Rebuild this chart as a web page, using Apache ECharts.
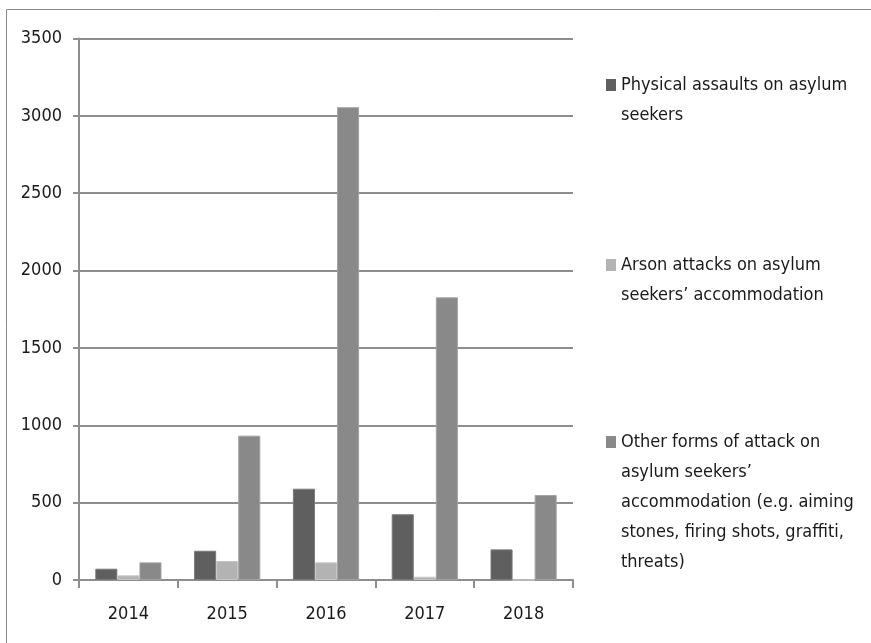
<!DOCTYPE html>
<html>
<head>
<meta charset="utf-8">
<script src="https://cdn.jsdelivr.net/npm/echarts@6/dist/echarts.min.js"></script>
<style>html,body{margin:0;padding:0;background:#fff}#c{width:871px;height:643px}</style>
</head>
<body>
<div id="c"></div>
<script>
const years = ['2014', '2015', '2016', '2017', '2018'];
const seriesNames = [
  'Physical assaults on asylum seekers',
  'Arson attacks on asylum seekers\u2019 accommodation',
  'Other forms of attack on asylum seekers\u2019 accommodation (e.g. aiming stones, firing shots, graffiti, threats)'
];
const legendLines = [
  ['Physical assaults on asylum', 'seekers'],
  ['Arson attacks on asylum', 'seekers\u2019 accommodation'],
  ['Other forms of attack on', 'asylum seekers\u2019', 'accommodation (e.g. aiming', 'stones, firing shots, graffiti,', 'threats)']
];
const physical = [73, 189, 590, 425, 198];
const arson = [30, 123, 114, 21, 0];
const other = [114, 933, 3056, 1827, 549];
const yTicks = [0, 500, 1000, 1500, 2000, 2500, 3000, 3500];

const colors = ['#5f5f5f', '#b3b3b3', '#898989'];
const borders = ['#7a7a7a', '#c6c6c6', '#a3a3a3'];
const FONT = '"DejaVu Sans Condensed", "Liberation Sans Narrow", sans-serif';
const gridColor = '#8e8e8e';
const LH = 30;
const legendFirstLineY = [85, 265, 442];

const values = [physical, arson, other];
const chart = echarts.init(document.getElementById('c'));

const legends = seriesNames.map((name, i) => {
  const n = legendLines[i].length;
  // leading blank lines keep the icon level with the first text line
  const text = '\n'.repeat(n - 1) + legendLines[i].join('\n');
  return {
    orient: 'vertical',
    left: 606,
    top: legendFirstLineY[i] - LH / 2 - (n - 1) * LH,
    padding: 0,
    itemWidth: 10,
    itemHeight: 12,
    icon: 'rect',
    selectedMode: false,
    data: [{ name: name, itemStyle: { color: colors[i], borderWidth: 0 } }],
    formatter: () => text,
    textStyle: {
      fontFamily: FONT,
      fontSize: 18,
      color: '#1a1a1a',
      lineHeight: LH
    }
  };
});

chart.setOption({
  animation: false,
  backgroundColor: '#fff',
  graphic: [{
    type: 'rect',
    shape: { x: 6.5, y: 9.5, width: 1000, height: 1000 },
    style: { fill: 'none', stroke: '#8a8a8a', lineWidth: 1 },
    silent: true
  }],
  legend: legends,
  grid: { left: 79, right: 298, top: 38.5, bottom: 63, containLabel: false },
  xAxis: {
    type: 'category',
    data: years,
    boundaryGap: true,
    axisLine: { show: true, lineStyle: { color: gridColor, width: 2 } },
    axisTick: { show: true, length: 8, lineStyle: { color: gridColor, width: 2 } },
    axisLabel: { fontFamily: FONT, fontSize: 18, color: '#1a1a1a', margin: 25 }
  },
  yAxis: {
    type: 'value',
    min: yTicks[0],
    max: yTicks[yTicks.length - 1],
    interval: 500,
    axisLine: { show: true, lineStyle: { color: gridColor, width: 2 } },
    axisTick: { show: true, length: 6, lineStyle: { color: gridColor, width: 2 } },
    splitLine: { show: true, lineStyle: { color: gridColor, width: 2 } },
    axisLabel: { fontFamily: FONT, fontSize: 18, color: '#1a1a1a', margin: 17, formatter: v => String(v) }
  },
  series: seriesNames.map((name, i) => ({
    name: name,
    type: 'bar',
    data: values[i],
    barGap: '0%',
    barCategoryGap: '33%',
    itemStyle: { color: colors[i], borderColor: borders[i], borderWidth: 1 }
  }))
});
</script>
</body>
</html>
